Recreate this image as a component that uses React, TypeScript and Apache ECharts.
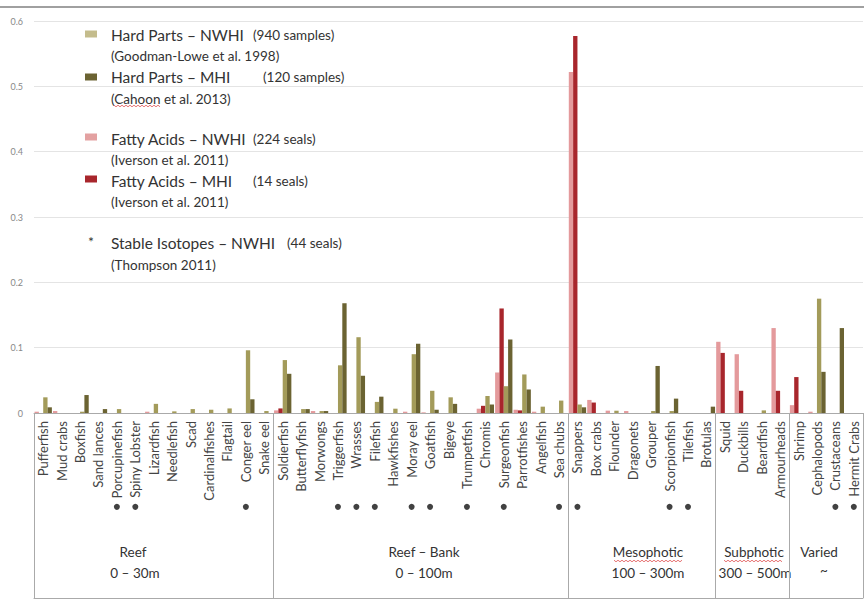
import React, { useEffect, useRef } from "react";
import * as echarts from "echarts";

const categories = [
  "Pufferfish", "Mud crabs", "Boxfish", "Sand lances", "Porcupinefish", "Spiny Lobster", "Lizardfish",
  "Needlefish", "Scad", "Cardinalfishes", "Flagtail", "Conger eel", "Snake eel",
  "Soldierfish", "Butterflyfish", "Morwongs", "Triggerfish", "Wrasses", "Filefish", "Hawkfishes",
  "Moray eel", "Goatfish", "Bigeye", "Trumpetfish", "Chromis", "Surgeonfish", "Parrotfishes",
  "Angelfish", "Sea chubs",
  "Snappers", "Box crabs", "Flounder", "Dragonets", "Grouper", "Scorpionfish", "Tilefish", "Brotulas",
  "Squid", "Duckbills", "Beardfish", "Armourheads",
  "Shrimp", "Cephalopods", "Crustaceans", "Hermit Crabs",
];

// Hard Parts – NWHI (Goodman-Lowe et al. 1998)
const hardPartsNWHI = [
  0.024, 0, 0.002, 0, 0.006, 0, 0.014, 0.0025, 0.006, 0.005, 0.007, 0.096, 0.003,
  0.081, 0.006, 0.003, 0.073, 0.116, 0.017, 0.0066, 0.09, 0.034, 0.024, 0, 0.026, 0.041, 0.059, 0.0097, 0.019,
  0.013, 0, 0.0035, 0, 0.003, 0.003, 0, 0,
  0, 0, 0.004, 0,
  0, 0.175, 0, 0,
];

// Hard Parts – MHI (Cahoon et al. 2013)
const hardPartsMHI = [
  0.0087, 0, 0.0275, 0.006, 0, 0, 0, 0, 0, 0, 0, 0.021, 0,
  0.06, 0.006, 0.003, 0.168, 0.057, 0.025, 0, 0.106, 0.005, 0.014, 0, 0.013, 0.1125, 0.036, 0, 0,
  0.0087, 0, 0, 0, 0.072, 0.022, 0, 0.0097,
  0, 0, 0, 0,
  0, 0.063, 0.13, 0,
];

// Fatty Acids – NWHI (Iverson et al. 2011)
const fattyAcidsNWHI = [
  0.002, 0.003, 0, 0, 0, 0, 0.002, 0, 0, 0, 0, 0, 0,
  0.004, 0, 0.003, 0, 0, 0, 0, 0.002, 0.001, 0, 0, 0.0066, 0.062, 0.005, 0.002, 0,
  0.522, 0.02, 0.0036, 0.003, 0, 0, 0, 0,
  0.109, 0.09, 0, 0.13,
  0.012, 0.002, 0, 0,
];

// Fatty Acids – MHI (Iverson et al. 2011)
const fattyAcidsMHI = [
  0, 0, 0, 0, 0, 0, 0, 0, 0, 0, 0, 0, 0,
  0.007, 0, 0, 0, 0, 0, 0, 0, 0, 0, 0, 0.011, 0.16, 0.004, 0, 0,
  0.577, 0.016, 0, 0, 0, 0, 0, 0,
  0.092, 0.034, 0, 0.034,
  0.055, 0, 0, 0,
];

// Stable Isotopes – NWHI (Thompson 2011)
const stableIsotopes = [
  "Porcupinefish", "Spiny Lobster", "Conger eel", "Triggerfish", "Wrasses", "Filefish", "Moray eel",
  "Goatfish", "Trumpetfish", "Surgeonfish", "Sea chubs", "Snappers", "Scorpionfish", "Tilefish",
  "Crustaceans", "Hermit Crabs",
];

// first category of each habitat group
const groupStarts = ["Pufferfish", "Soldierfish", "Snappers", "Squid", "Shrimp"];
const groupNames = ["Reef", "Reef – Bank", "Mesophotic", "Subphotic", "Varied"];
const groupDepths = ["0 – 30m", "0 – 100m", "100 – 300m", "300 – 500m", "~"];

const yTicks = [0, 0.1, 0.2, 0.3, 0.4, 0.5, 0.6];

const FONT = "Lato, 'Open Sans', sans-serif";
const C_KHAKI = "#a39b5a";
const C_OLIVE = "#6b6332";
const C_PINK = "#e49a9c";
const C_RED = "#a8262c";

export default function App() {
  const ref = useRef<HTMLDivElement>(null);

  useEffect(() => {
    if (!ref.current) return;
    const chart = echarts.init(ref.current, undefined, { renderer: "svg" });
    const startIdx = groupStarts.map((g) => categories.indexOf(g));

    const txt = (x: number, y: number, text: string, size: number, align = "left", fill = "#333") => ({
      type: "text",
      x,
      y,
      style: { text, fontSize: size, fontFamily: FONT, fill, align, verticalAlign: "middle" },
      silent: true,
    });
    const swatch = (y: number, color: string) => ({
      type: "rect",
      shape: { x: 85, y: y - 3.5, width: 12, height: 7 },
      style: { fill: color },
      silent: true,
    });
    const squiggle = (x1: number, x2: number, y: number) => {
      const pts: number[][] = [];
      let up = true;
      for (let x = x1; x <= x2; x += 2) {
        pts.push([x, up ? y - 0.8 : y + 0.8]);
        up = !up;
      }
      return { type: "polyline", shape: { points: pts }, style: { stroke: "#e05050", lineWidth: 0.8, fill: "none" }, silent: true };
    };

    const groupX = [133, 424, 648, 754, 819];
    const depthX = [135, 424, 648, 755, 824];
    const MAIN = 15.5;
    const SUB = 13.5;

    const graphic: any[] = [
      { type: "line", shape: { x1: 0, y1: 7, x2: 864, y2: 7 }, style: { stroke: "#808080", lineWidth: 1.5 }, silent: true },
      swatch(34, "#c4bc8c"),
      txt(111, 35, "Hard Parts – NWHI", MAIN),
      txt(253, 35, "(940 samples)", SUB),
      txt(111, 56, "(Goodman-Lowe et al. 1998)", SUB),
      swatch(77, C_OLIVE),
      txt(111, 77, "Hard Parts – MHI", MAIN),
      txt(263, 77, "(120 samples)", SUB),
      txt(111, 99, "(Cahoon et al. 2013)", SUB),
      squiggle(114, 161, 106),
      swatch(137, "#e3a1a1"),
      txt(111, 139, "Fatty Acids – NWHI", MAIN),
      txt(253, 139, "(224 seals)", SUB),
      txt(111, 160, "(Iverson et al. 2011)", SUB),
      swatch(179, C_RED),
      txt(111, 181, "Fatty Acids – MHI", MAIN),
      txt(253, 181, "(14 seals)", SUB),
      txt(111, 202, "(Iverson et al. 2011)", SUB),
      txt(91, 241, "*", 14, "center"),
      txt(111, 243, "Stable Isotopes – NWHI", MAIN),
      txt(287, 243, "(44 seals)", SUB),
      txt(111, 265, "(Thompson 2011)", SUB),
    ];
    groupNames.forEach((g, i) => {
      graphic.push(txt(groupX[i], 552, g, 13.5, "center"));
      graphic.push(txt(depthX[i], i === 4 ? 570 : 573, groupDepths[i], 13.5, "center"));
    });
    graphic.push(squiggle(614, 683, 561));
    graphic.push(squiggle(724, 783, 561));

    const barSeries = (name: string, data: number[], color: string) => ({
      name,
      type: "bar",
      xAxisIndex: 0,
      yAxisIndex: 0,
      data,
      barGap: "0%",
      barCategoryGap: "6%",
      itemStyle: { color },
    });

    chart.setOption({
      animation: false,
      backgroundColor: "#ffffff",
      textStyle: { fontFamily: FONT },
      grid: [
        { left: 34, right: 1, top: 21, bottom: 188 },
        { left: 34, right: 1, top: 413, bottom: 3 },
      ],
      xAxis: [
        {
          type: "category",
          gridIndex: 0,
          data: categories,
          axisLine: { show: true, lineStyle: { color: "#aaaaaa" } },
          axisTick: { show: false },
          axisLabel: {
            interval: 0,
            rotate: 90,
            margin: 8,
            fontSize: 13,
            color: "#444444",
            fontFamily: FONT,
          },
        },
        {
          type: "category",
          gridIndex: 1,
          data: categories,
          axisLine: { show: true, lineStyle: { color: "#aaaaaa" } },
          axisTick: { show: false },
          axisLabel: { show: false },
          splitLine: {
            show: true,
            interval: (idx: number) => startIdx.includes(idx),
            lineStyle: { color: "#aaaaaa", width: 1 },
          },
        },
      ],
      yAxis: [
        {
          type: "value",
          gridIndex: 0,
          min: 0,
          max: yTicks[yTicks.length - 1],
          interval: 0.1,
          axisLine: { show: false },
          axisTick: { show: false },
          axisLabel: { fontSize: 9, color: "#888888", margin: 11, fontFamily: FONT },
          splitLine: { lineStyle: { color: "#e4e4e4" } },
        },
        {
          type: "value",
          gridIndex: 1,
          min: 0,
          max: 2.03,
          show: false,
          splitLine: { show: false },
        },
      ],
      series: [
        barSeries("Fatty Acids – NWHI", fattyAcidsNWHI, C_PINK),
        barSeries("Fatty Acids – MHI", fattyAcidsMHI, C_RED),
        barSeries("Hard Parts – NWHI", hardPartsNWHI, C_KHAKI),
        barSeries("Hard Parts – MHI", hardPartsMHI, C_OLIVE),
        {
          name: "Stable Isotopes – NWHI",
          type: "scatter",
          xAxisIndex: 1,
          yAxisIndex: 1,
          symbol: "circle",
          symbolSize: 6,
          itemStyle: { color: "#111111" },
          data: stableIsotopes.map((c) => [c, 1]),
        },
      ],
      graphic,
    });

    return () => chart.dispose();
  }, []);

  return (
    <div
      ref={ref}
      style={{ position: "fixed", left: 0, top: 0, width: 864, height: 601, background: "#fff" }}
    />
  );
}
